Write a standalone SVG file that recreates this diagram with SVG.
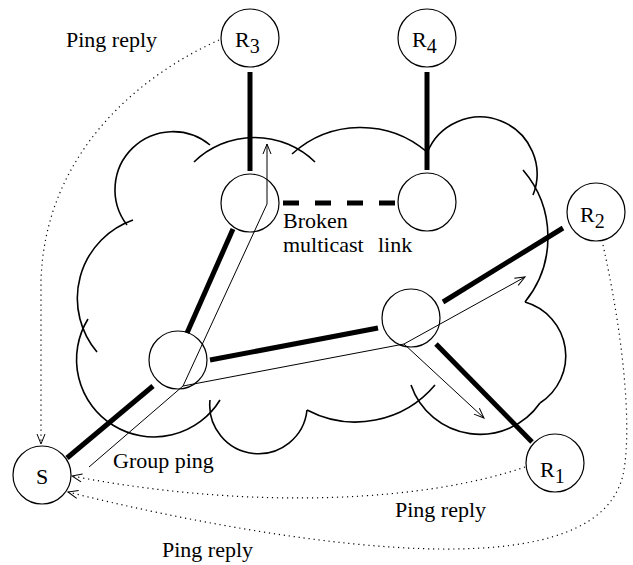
<svg xmlns="http://www.w3.org/2000/svg" width="633" height="565" viewBox="0 0 633 565">
<style>
text{font-family:"Liberation Serif","Times New Roman",serif;font-size:22px;fill:#000}
.node{fill:none;stroke:#000;stroke-width:1.2}
.cloud{fill:none;stroke:#000;stroke-width:1.6}
.thick{stroke:#000;stroke-width:5;fill:none}
.dash{stroke:#000;stroke-width:5;fill:none;stroke-dasharray:16 16}
.thin{stroke:#000;stroke-width:1;fill:none;marker-end:url(#ah)}
.dot{stroke:#000;stroke-width:1.2;fill:none;stroke-dasharray:1.2 3.8;marker-end:url(#ah)}
</style>
<defs>
<marker id="ah" viewBox="-11 -5 12 10" refX="0" refY="0" markerWidth="12" markerHeight="10" markerUnits="userSpaceOnUse" orient="auto">
<path d="M-10,-4 L0,0 L-10,4" fill="none" stroke="#000" stroke-width="1" stroke-dasharray="none"/>
</marker>
</defs>
<rect width="633" height="565" fill="#fff"/>
<g id="cloud" class="cloud">
<path d="M210,145 A58,58 0 0 0 127,225"/>
<path d="M194,162 A87,87 0 0 1 315,162"/>
<path d="M292,154 A102,102 0 0 1 427,152"/>
<path d="M427,153 A56,56 0 0 1 533,195"/>
<path d="M523,170 A103,103 0 0 1 525,302"/>
<path d="M525,302 A56,56 0 0 1 540,403"/>
<path d="M540,403 A73,73 0 0 1 411,385"/>
<path d="M435,385 A104,104 0 0 1 307,410"/>
<path d="M307,410 A48,48 0 0 1 210,400"/>
<path d="M88,319 A76,76 0 1 0 220,400"/>
<path d="M133,220 A83,83 0 0 0 97,352"/>
</g>
<g id="connectors">
<line class="thick" x1="250" y1="72" x2="250" y2="171"/>
<line class="thick" x1="427" y1="72" x2="427" y2="170"/>
<line class="thick" x1="233" y1="229" x2="187" y2="333"/>
<line class="thick" x1="210" y1="360" x2="378" y2="328"/>
<line class="thick" x1="443" y1="302" x2="563" y2="228"/>
<line class="thick" x1="436" y1="344" x2="532" y2="442"/>
<line class="thick" x1="153" y1="386" x2="67" y2="458"/>
<line class="dash" x1="283" y1="203" x2="395" y2="203"/>
<path class="thin" d="M89,467 L183,386 L267,204 L267,144"/>
<path class="thin" d="M183,386 L404,344 L525,277"/>
<path class="thin" d="M404,344 L484,418"/>
<path class="dot" d="M219,40 C130,80 45,160 41,280 L41,444"/>
<path class="dot" d="M525,467 C430,500 260,512 72,476"/>
<path class="dot" d="M603,245 C622,330 632,420 624,470 C614,530 540,550 440,549 C330,548 180,520 68,492"/>
</g>
<g id="R3"><circle class="node" cx="250" cy="38" r="29"/><text x="235" y="47">R<tspan dy="6" font-size="20">3</tspan></text></g>
<g id="R4"><circle class="node" cx="427" cy="38" r="29"/><text x="412" y="47">R<tspan dy="6" font-size="20">4</tspan></text></g>
<g id="R2"><circle class="node" cx="596" cy="212" r="29"/><text x="580" y="222">R<tspan dy="6" font-size="20">2</tspan></text></g>
<g id="R1"><circle class="node" cx="555" cy="463" r="29"/><text x="540" y="477">R<tspan dy="6" font-size="20">1</tspan></text></g>
<g id="S"><circle class="node" cx="42" cy="475" r="29"/><text x="42" y="484" text-anchor="middle">S</text></g>
<g id="A"><circle class="node" cx="250" cy="203" r="29"/></g>
<g id="B"><circle class="node" cx="427" cy="202" r="29"/></g>
<g id="C"><circle class="node" cx="178" cy="360" r="29"/></g>
<g id="D"><circle class="node" cx="411" cy="318" r="29"/></g>
<g id="labels">
<text x="66" y="47">Ping reply</text>
<text x="113" y="468">Group ping</text>
<text x="395" y="517">Ping reply</text>
<text x="162" y="557">Ping reply</text>
<text x="283" y="228">Broken</text>
<text x="283" y="252">multicast</text>
<text x="378" y="252">link</text>
</g>
</svg>
